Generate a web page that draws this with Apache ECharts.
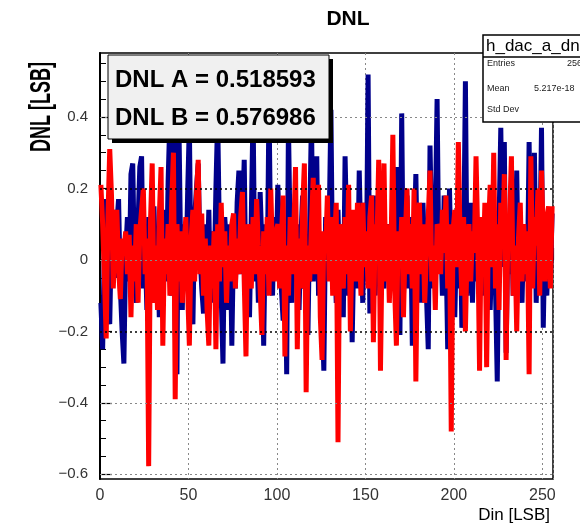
<!DOCTYPE html>
<html><head><meta charset="utf-8">
<script src="https://cdn.jsdelivr.net/npm/echarts@6/dist/echarts.min.js"></script>
<style>html,body{margin:0;padding:0;background:#fff}#c{width:580px;height:526px}</style>
</head><body><div id="c"></div>
<script>
// DNL of DAC A (blue), per input code 0..255
const dnlA = [
 -0.12,-0.25, 0.05, 0.17,-0.10,-0.18, 0.08, 0.14,-0.05, 0.10, 0.17,-0.08,-0.20,-0.29, 0.02, 0.12,
 -0.06, 0.24, 0.27,-0.02,-0.12, 0.10, 0.26, 0.29,-0.08, 0.04,-0.14, 0.12, 0.02,-0.10, 0.15,-0.04,
  0.08,-0.16, 0.06,-0.12, 0.14,-0.06, 0.22, 0.40,-0.10, 0.36,-0.20,-0.32, 0.42, 0.05,-0.14, 0.10,
 -0.06, 0.18, 0.38,-0.08,-0.18, 0.12, 0.20, 0.27, 0.02,-0.08,-0.15, 0.10,-0.04, 0.14,-0.12, 0.08,
 -0.06, 0.20, 0.40, 0.06,-0.10,-0.29, 0.12, 0.04,-0.14, 0.10,-0.24, 0.06,-0.08, 0.16, 0.25,-0.04,
  0.10, 0.28,-0.10, 0.06,-0.16, 0.12, 0.42,-0.06, 0.08,-0.12, 0.19, 0.04,-0.24, 0.10,-0.06, 0.44,
  0.02,-0.10, 0.12,-0.04, 0.21, 0.06,-0.08,-0.17, 0.10,-0.32, 0.38, 0.04,-0.12, 0.14,-0.06, 0.10,
 -0.14, 0.06, 0.18,-0.08, 0.02,-0.21, 0.10, 0.40,-0.06, 0.08, 0.29,-0.10, 0.06,-0.14,-0.31, 0.12,
 -0.04, 0.10, 0.42,-0.08, 0.04,-0.12, 0.14,-0.06, 0.08,-0.16, 0.29, 0.06,-0.10, 0.12,-0.23, 0.04,
  0.10,-0.08, 0.25, 0.02,-0.12, 0.16,-0.06, 0.518593,-0.15, 0.08, 0.18,-0.10, 0.05, 0.12,-0.04, 0.02,
 -0.08, 0.06,-0.02, 0.10,-0.06, 0.14, 0.04, 0.26,-0.04,-0.21, 0.41,-0.10, 0.06, 0.18,-0.08, 0.12,
 -0.24, 0.04, 0.24,-0.06, 0.10,-0.12, 0.16, 0.02,-0.10,-0.25, 0.32, 0.06,-0.08, 0.12, 0.45,-0.02,
  0.08,-0.10, 0.18, 0.04,-0.25, 0.20,-0.04, 0.10,-0.16, 0.06,-0.08, 0.14,-0.19, 0.02, 0.50,-0.10,
  0.04, 0.16,-0.12, 0.08, 0.14,-0.06, 0.02, 0.12,-0.10, 0.06,-0.04, 0.10,-0.14, 0.04, 0.12,-0.08,
 -0.34, 0.10, 0.37,-0.02, 0.33,-0.26, 0.06,-0.04, 0.14,-0.10, 0.04, 0.25,-0.08, 0.06,-0.12, 0.10,
  0.02,-0.06, 0.33,-0.04, 0.10, 0.30,-0.12, 0.06,-0.02, 0.37,-0.19, 0.08,-0.10, 0.04,-0.06, 0.13
];
// DNL of DAC B (red)
const dnlB = [
  0.21, 0.10,-0.05,-0.22, 0.12, 0.31, 0.18,-0.08, 0.05, 0.14,-0.02,-0.11, 0.06, 0.02, 0.08,-0.04,
  0.07,-0.16, 0.04,-0.06, 0.10,-0.12, 0.08, 0.14, 0.20,-0.04, 0.06,-0.576986, 0.10, 0.27,-0.12, 0.04,
 -0.14, 0.12, 0.26,-0.24, 0.06,-0.04, 0.10,-0.10, 0.16, 0.30,-0.39, 0.10,-0.06, 0.08,-0.12, 0.04,
  0.12,-0.08,-0.24, 0.06, 0.14,-0.06, 0.18, 0.28,-0.04, 0.13,-0.10, 0.06,-0.14,-0.24, 0.04,-0.08,
  0.08,-0.25, 0.10,-0.06, 0.16,-0.02, 0.08,-0.12, 0.04,-0.06, 0.10, 0.13,-0.08, 0.06,-0.04, 0.12,
  0.19,-0.06,-0.27, 0.10, 0.02,-0.08, 0.12,-0.04, 0.17, 0.04,-0.08,-0.21, 0.08,-0.04, 0.12,-0.10,
  0.20, 0.02,-0.06, 0.08, 0.10,-0.08, 0.06, 0.18,-0.27, 0.04,-0.10, 0.12,-0.04, 0.08, 0.26,-0.25,
  0.06,-0.08, 0.14, 0.27,-0.37, 0.04,-0.06, 0.10, 0.23,-0.04, 0.06, 0.21,-0.16,-0.28, 0.08, 0.02,
  0.18,-0.06, 0.12,-0.10, 0.04, 0.16,-0.51, 0.10, 0.02,-0.08, 0.12,-0.04, 0.21,-0.20, 0.06, 0.14,
 -0.06, 0.16, 0.04,-0.10, 0.16,-0.02, 0.08,-0.08, 0.12, 0.18,-0.23, 0.10, 0.04, 0.28,-0.31, 0.06,
  0.27,-0.06, 0.10,-0.12, 0.04, 0.35,-0.08,-0.24, 0.08,-0.02, 0.12,-0.16, 0.06, 0.20,-0.04, 0.10,
 -0.08, 0.20,-0.34, 0.06, 0.16,-0.04, 0.10,-0.12, 0.02, 0.12, 0.25,-0.06, 0.04,-0.14, 0.10, 0.08,
 -0.04, 0.14, 0.02, 0.18,-0.08, 0.10,-0.48, 0.08, 0.14,-0.02, 0.33, 0.06,-0.10, 0.12,-0.20, 0.04,
  0.10,-0.06, 0.08, 0.02, 0.29, 0.06,-0.31, 0.12,-0.04, 0.16,-0.30, 0.08, 0.21,-0.02, 0.30,-0.08,
  0.10,-0.14, 0.16, 0.04, 0.24,-0.28, 0.08, 0.12, 0.29,-0.10, 0.04,-0.20, 0.06, 0.16,-0.06, 0.10,
 -0.04, 0.08,-0.32, 0.29,-0.08, 0.12, 0.04, 0.20,-0.10, 0.25, 0.06,-0.06, 0.12, 0.15,-0.08, 0.15
];
const yTickValues = [-0.6, -0.4, -0.2, 0, 0.2, 0.4];
const yMinorValues = [-0.6,-0.55,-0.5,-0.45,-0.4,-0.35,-0.3,-0.25,-0.2,-0.15,-0.1,-0.05,0,0.05,0.1,0.15,0.2,0.25,0.3,0.35,0.4,0.45,0.5,0.55];
const yGreyGrid = [-0.6, -0.4, 0, 0.4];
const yBlackGrid = [-0.2, 0.2];
const legendLines = ['DNL A = 0.518593', 'DNL B = 0.576986'];
const statsTitle = 'h_dac_a_dnl';
const statsRows = [['Entries', '256'], ['Mean', '5.217e-18'], ['Std Dev', '']];

const FONT = '"Liberation Sans", Arial, sans-serif';
const chart = echarts.init(document.getElementById('c'), null, {renderer: 'canvas'});

const toPts = arr => arr.map((v, i) => [i + 0.5, v]);
const fmtY = v => (Math.abs(v) < 1e-9 ? '0' : v.toFixed(1).replace('-', '\u2212'));

const gridLines = [];
yGreyGrid.forEach(v => gridLines.push({yAxis: v, lineStyle: {color: '#888', type: [2, 3], width: 1}}));
yBlackGrid.forEach(v => gridLines.push({yAxis: v, lineStyle: {color: '#000', type: [2, 3], width: 1.5}}));

const option = {
  animation: false,
  backgroundColor: '#fff',
  grid: {left: 100, right: 27, top: 53, bottom: 47, show: true, borderColor: '#000', borderWidth: 1.5, backgroundColor: 'transparent'},
  xAxis: {
    type: 'value', min: 0, max: 256, interval: 50,
    axisLine: {show: true, lineStyle: {color: '#000', width: 2}},
    axisTick: {show: true, inside: true, length: 12, lineStyle: {color: '#000', width: 1.2}},
    minorTick: {show: true, splitNumber: 5, length: 6, lineStyle: {color: '#000', width: 1}},
    splitLine: {show: true, lineStyle: {color: '#888', type: [2, 3], width: 1}},
    axisLabel: {color: '#333', fontSize: 16, fontFamily: FONT, margin: 9, showMaxLabel: false}
  },
  yAxis: [{
    type: 'value', min: -0.613, max: 0.579, position: 'left', offset: 0,
    axisLine: {show: true, lineStyle: {color: '#000', width: 2}},
    axisTick: {show: true, inside: true, length: 12, customValues: yTickValues, lineStyle: {color: '#000', width: 1.2}},
    splitLine: {show: false},
    axisLabel: {color: '#333', fontSize: 15, fontFamily: FONT, margin: 12, customValues: yTickValues, formatter: fmtY}
  }, {
    type: 'value', min: -0.613, max: 0.579, position: 'left', offset: 0,
    axisLine: {show: false},
    axisTick: {show: true, inside: true, length: 6, customValues: yMinorValues, lineStyle: {color: '#000', width: 1}},
    splitLine: {show: false},
    axisLabel: {show: false}
  }],
  series: [
    {type: 'line', data: [], z: 1, silent: true,
     markLine: {silent: true, symbol: ['none', 'none'], label: {show: false}, data: gridLines}},
    {type: 'line', name: 'DNL A', data: toPts(dnlA), symbol: 'none', z: 3,
     lineStyle: {color: '#00008b', width: 5, join: 'bevel'}},
    {type: 'line', name: 'DNL B', data: toPts(dnlB), symbol: 'none', z: 4,
     lineStyle: {color: '#ff0000', width: 5, join: 'bevel'}}
  ],
  graphic: [
    {type: 'text', x: 348, y: 19, style: {text: 'DNL', font: 'bold 21px ' + FONT, fill: '#000', align: 'center', verticalAlign: 'middle'}},
    {type: 'text', x: 42, y: 107, rotation: Math.PI / 2, scaleX: 0.6,
     style: {text: 'DNL [LSB]', font: 'bold 30px ' + FONT, fill: '#000', align: 'center', verticalAlign: 'middle'}},
    {type: 'text', x: 550, y: 515, style: {text: 'Din [LSB]', font: '17px ' + FONT, fill: '#000', align: 'right', verticalAlign: 'middle'}},
    // legend pave with shadow
    {type: 'rect', z: 100, shape: {x: 112, y: 59, width: 221, height: 84}, style: {fill: '#000'}},
    {type: 'rect', z: 101, shape: {x: 108, y: 55, width: 221, height: 84}, style: {fill: '#f0f0f0', stroke: '#000', lineWidth: 1}},
    {type: 'text', z: 102, x: 115, y: 80, style: {text: legendLines[0], font: 'bold 24px ' + FONT, fill: '#000', verticalAlign: 'middle'}},
    {type: 'text', z: 102, x: 115, y: 118, style: {text: legendLines[1], font: 'bold 24px ' + FONT, fill: '#000', verticalAlign: 'middle'}},
    // stats box
    {type: 'rect', z: 100, shape: {x: 483, y: 35, width: 200, height: 87}, style: {fill: '#fff', stroke: '#000', lineWidth: 1.5}},
    {type: 'line', z: 101, shape: {x1: 483, y1: 57, x2: 683, y2: 57}, style: {stroke: '#000', lineWidth: 1.5}},
    {type: 'text', z: 102, x: 486, y: 46, style: {text: statsTitle, font: '17px ' + FONT, fill: '#000', verticalAlign: 'middle'}},
    {type: 'text', z: 102, x: 487, y: 64, style: {text: statsRows[0][0], font: '9px ' + FONT, fill: '#222', verticalAlign: 'middle'}},
    {type: 'text', z: 102, x: 487, y: 89, style: {text: statsRows[1][0], font: '9px ' + FONT, fill: '#222', verticalAlign: 'middle'}},
    {type: 'text', z: 102, x: 487, y: 110, style: {text: statsRows[2][0], font: '9px ' + FONT, fill: '#222', verticalAlign: 'middle'}},
    {type: 'text', z: 102, x: 567, y: 64, style: {text: statsRows[0][1], font: '9px ' + FONT, fill: '#222', verticalAlign: 'middle'}},
    {type: 'text', z: 102, x: 534, y: 89, style: {text: statsRows[1][1], font: '9px ' + FONT, fill: '#222', verticalAlign: 'middle'}}
  ]
};
chart.setOption(option);
</script></body></html>
